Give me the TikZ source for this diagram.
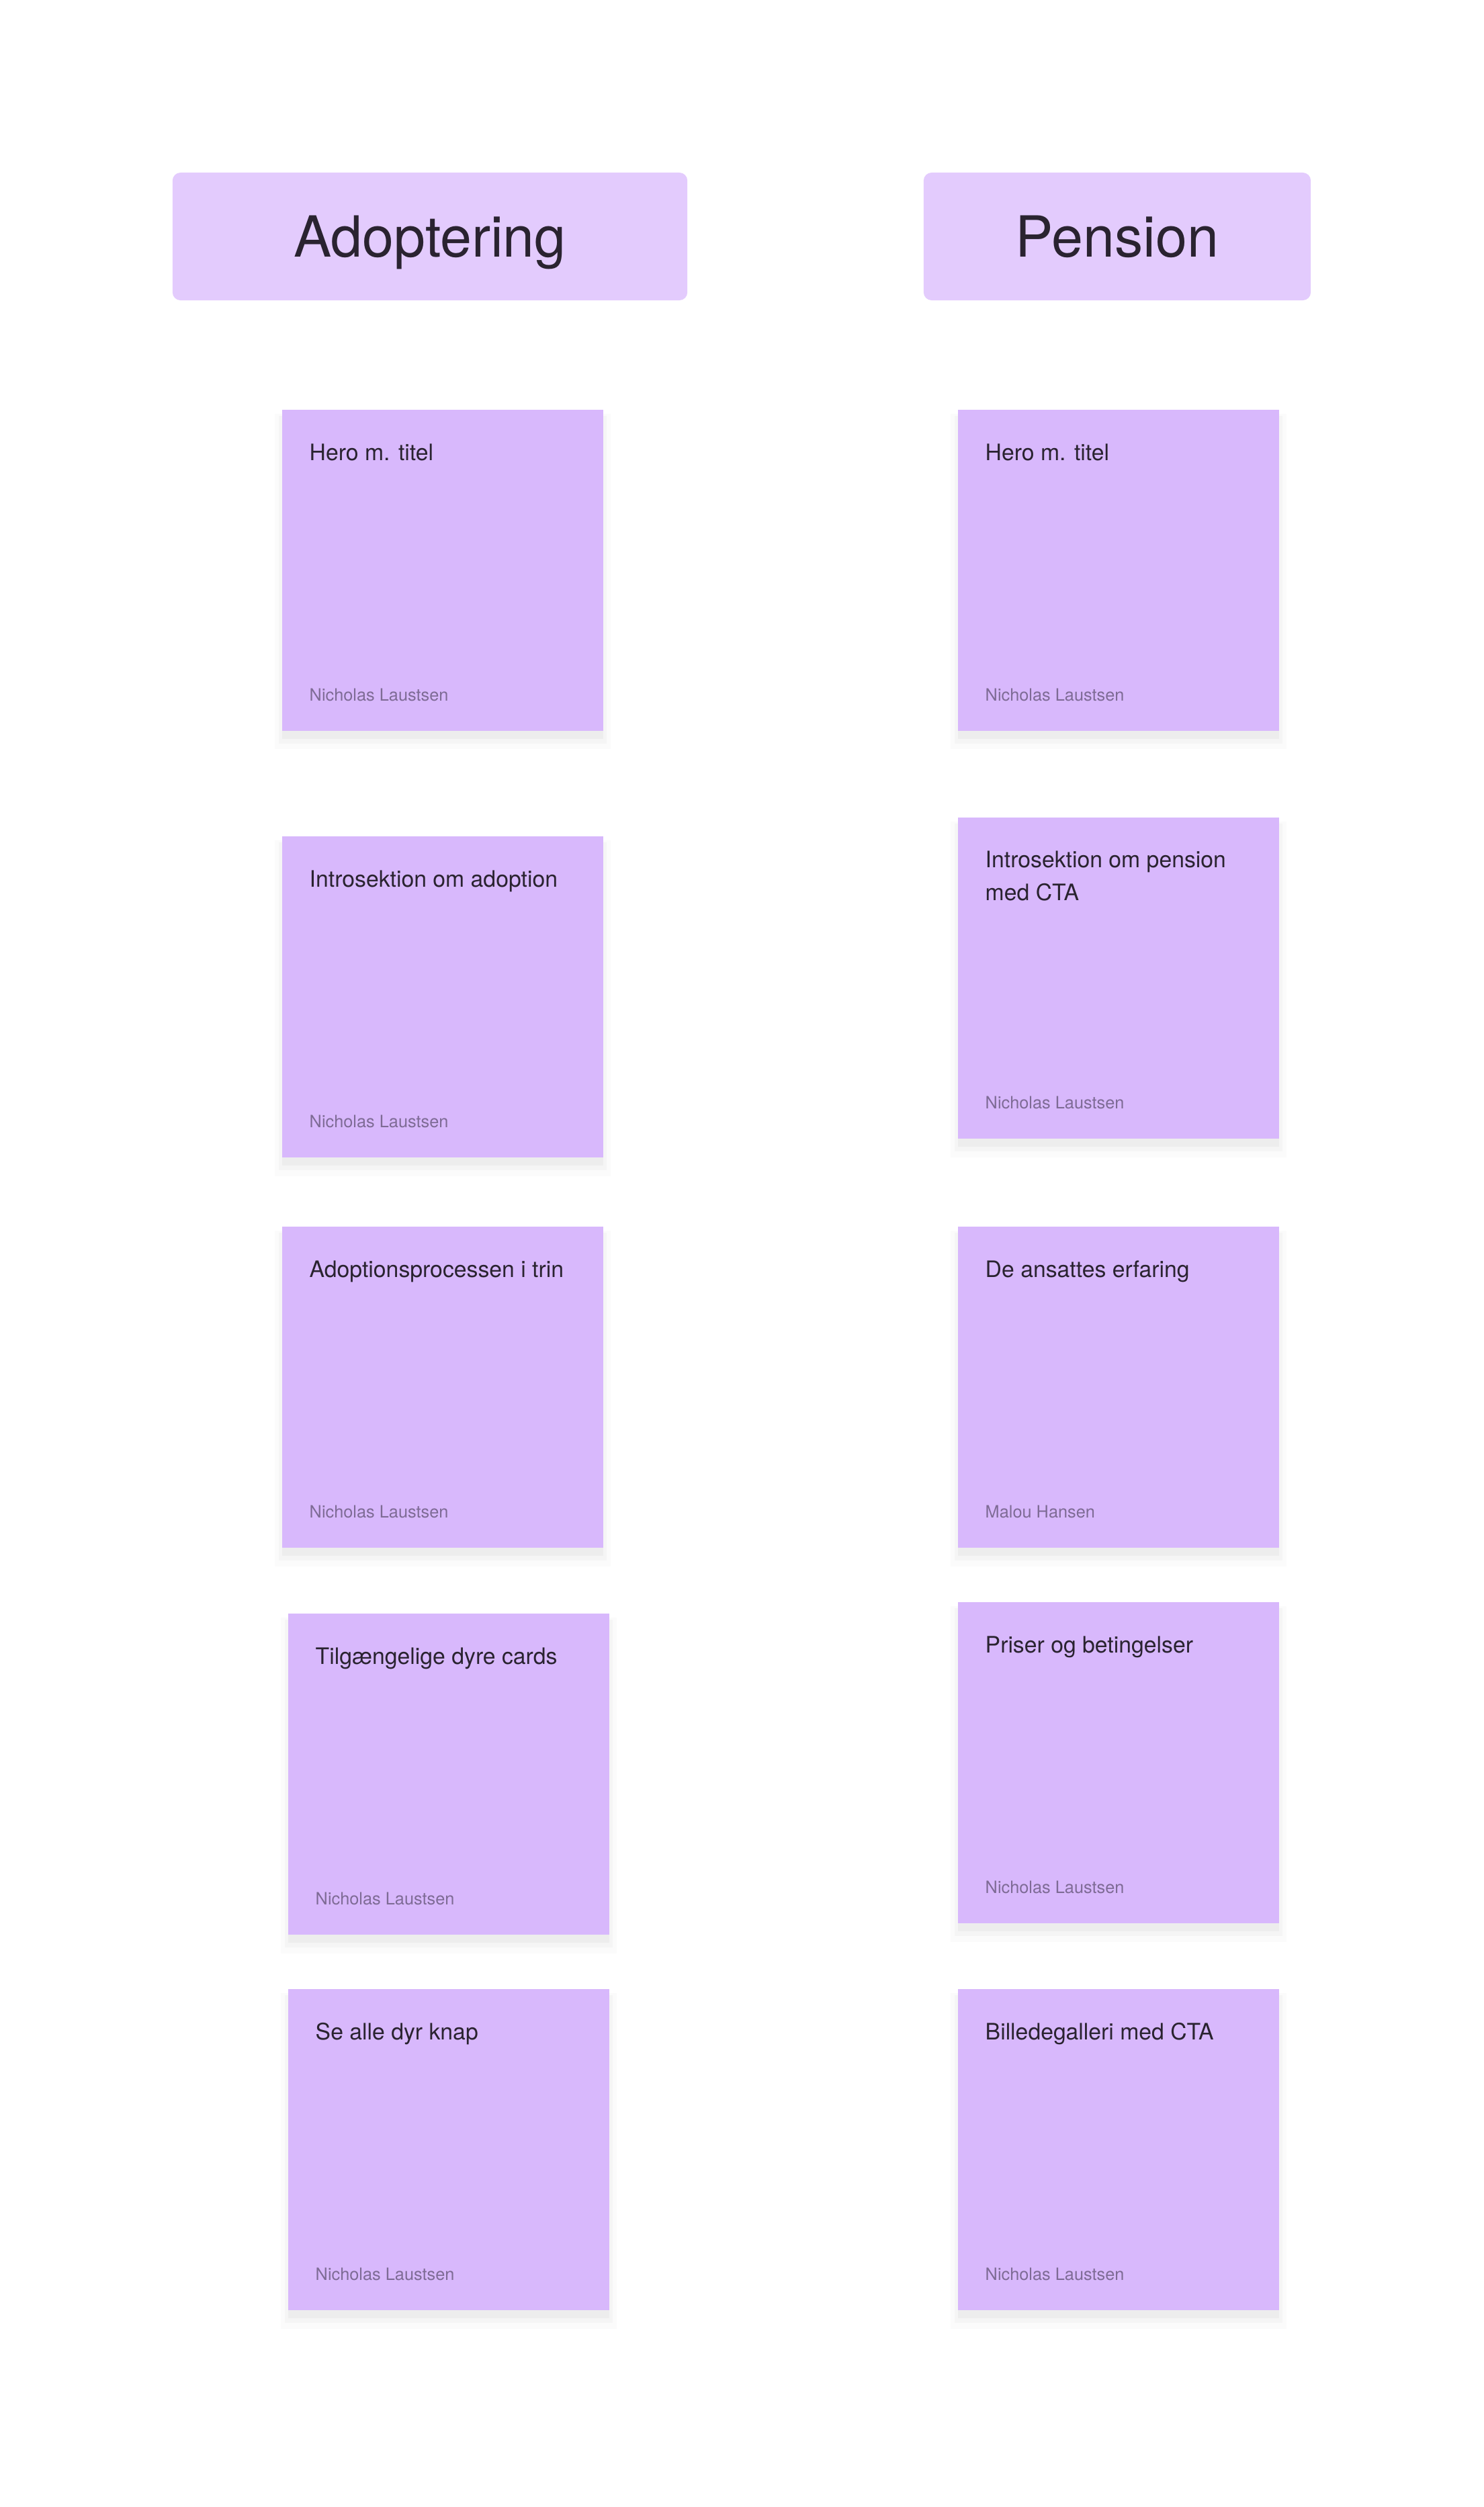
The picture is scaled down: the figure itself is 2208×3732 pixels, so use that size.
\documentclass[tikz,border=0pt]{standalone}
\usepackage{fontspec}
\setmainfont{TeX Gyre Heros}
\usetikzlibrary{shadows}
\definecolor{headfill}{HTML}{E3CBFD}
\definecolor{cardfill}{HTML}{D8B8FC}
\definecolor{inkdark}{HTML}{2A2330}
\definecolor{inkgrey}{HTML}{7E6B95}
\begin{document}
\begin{tikzpicture}[x=0.01cm, y=-0.01cm]
        \tikzstyle{header}=[rectangle, rounded corners=0.12cm, fill=headfill, inner sep=0pt,
            minimum height=1.9cm, text=inkdark, font=\fontsize{24}{27}\selectfont,
            text height=0.6cm, text depth=0pt]
        \tikzstyle{card}=[rectangle, fill=cardfill, inner sep=0pt, minimum size=4.78cm, anchor=north west,
            general shadow={fill=black, opacity=0.03, shadow yshift=-0.12cm},
            general shadow={fill=black, opacity=0.025, shadow yshift=-0.14cm, shadow scale=1.02},
            general shadow={fill=black, opacity=0.015, shadow yshift=-0.16cm, shadow scale=1.045}]
        \tikzstyle{cardtitle}=[anchor=base west, inner sep=0pt, align=left, text=inkdark,
            font=\fontsize{9.6}{13.7}\selectfont]
        \tikzstyle{cardauthor}=[anchor=base west, inner sep=0pt, text=inkgrey,
            font=\fontsize{7.2}{8.5}\selectfont]
        \fill[white] (0,0) rectangle (2208,3732);
        \useasboundingbox (0,0) rectangle (2208,3732);
        % Headers
        \node[header, minimum width=7.66cm] (adopt) at (640,352) {Adoptering};
        \node[header, minimum width=5.76cm] (pension) at (1663,352) {Pension};
        % Adoptering column
        \node[card] (a1) at (419,609) {};
        \node[cardtitle] (a1t) at ([xshift=0.41cm, yshift=-0.76cm]a1.north west) {Hero m. titel};
        \node[cardauthor] (a1a) at ([xshift=0.41cm, yshift=0.45cm]a1.south west) {Nicholas Laustsen};
        \node[card] (a2) at (419,1244) {};
        \node[cardtitle] (a2t) at ([xshift=0.41cm, yshift=-0.76cm]a2.north west) {Introsektion om adoption};
        \node[cardauthor] (a2a) at ([xshift=0.41cm, yshift=0.45cm]a2.south west) {Nicholas Laustsen};
        \node[card] (a3) at (419,1825) {};
        \node[cardtitle] (a3t) at ([xshift=0.41cm, yshift=-0.76cm]a3.north west) {Adoptionsprocessen i trin};
        \node[cardauthor] (a3a) at ([xshift=0.41cm, yshift=0.45cm]a3.south west) {Nicholas Laustsen};
        \node[card] (a4) at (428,2401) {};
        \node[cardtitle] (a4t) at ([xshift=0.41cm, yshift=-0.76cm]a4.north west) {Tilgængelige dyre cards};
        \node[cardauthor] (a4a) at ([xshift=0.41cm, yshift=0.45cm]a4.south west) {Nicholas Laustsen};
        \node[card] (a5) at (428,2960) {};
        \node[cardtitle] (a5t) at ([xshift=0.41cm, yshift=-0.76cm]a5.north west) {Se alle dyr knap};
        \node[cardauthor] (a5a) at ([xshift=0.41cm, yshift=0.45cm]a5.south west) {Nicholas Laustsen};
        % Pension column
        \node[card] (p1) at (1425,609) {};
        \node[cardtitle] (p1t) at ([xshift=0.41cm, yshift=-0.76cm]p1.north west) {Hero m. titel};
        \node[cardauthor] (p1a) at ([xshift=0.41cm, yshift=0.45cm]p1.south west) {Nicholas Laustsen};
        \node[card] (p2) at (1425,1216) {};
        % two lines: base sits on the last one
        \node[cardtitle] (p2t) at ([xshift=0.41cm, yshift=-1.24cm]p2.north west) {Introsektion om pension\\med CTA};
        \node[cardauthor] (p2a) at ([xshift=0.41cm, yshift=0.45cm]p2.south west) {Nicholas Laustsen};
        \node[card] (p3) at (1425,1825) {};
        \node[cardtitle] (p3t) at ([xshift=0.41cm, yshift=-0.76cm]p3.north west) {De ansattes erfaring};
        \node[cardauthor] (p3a) at ([xshift=0.41cm, yshift=0.45cm]p3.south west) {Malou Hansen};
        \node[card] (p4) at (1425,2384) {};
        \node[cardtitle] (p4t) at ([xshift=0.41cm, yshift=-0.76cm]p4.north west) {Priser og betingelser};
        \node[cardauthor] (p4a) at ([xshift=0.41cm, yshift=0.45cm]p4.south west) {Nicholas Laustsen};
        \node[card] (p5) at (1425,2960) {};
        \node[cardtitle] (p5t) at ([xshift=0.41cm, yshift=-0.76cm]p5.north west) {Billedegalleri med CTA};
        \node[cardauthor] (p5a) at ([xshift=0.41cm, yshift=0.45cm]p5.south west) {Nicholas Laustsen};
\end{tikzpicture}
\end{document}
